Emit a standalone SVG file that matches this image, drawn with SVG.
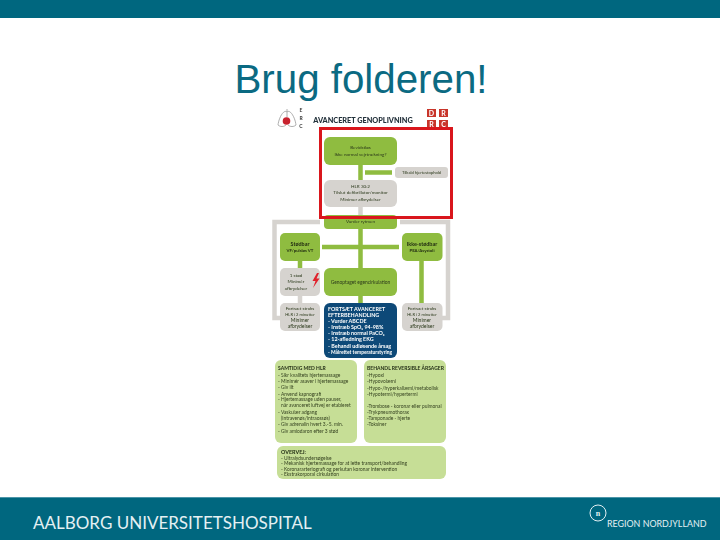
<svg xmlns="http://www.w3.org/2000/svg" width="720" height="540" viewBox="0 0 720 540">
<defs>
<filter id="soft" x="-5%" y="-5%" width="110%" height="110%"><feGaussianBlur stdDeviation="0.4"/></filter>
</defs>
<style>
text{font-family:"Lato","Liberation Sans",sans-serif}
.g{fill:#8fbc3f}.k{fill:#d6d3cf}.l{fill:#c6de96}
.t{fill:#2c3a1c;font-size:4.600px;text-anchor:middle}
.b{fill:#1f2a12;font-size:5.400px;font-weight:700;text-anchor:middle}
.s{fill:#33401f;font-size:4.900px}
.h{fill:#1f2a12;font-size:5px;font-weight:700}
.w{fill:#fff;font-size:5.400px;font-weight:700}
.c{stroke:#8fbc3f;stroke-width:4.500;fill:none}
.f{stroke:#d6d3cf;stroke-width:4.500;fill:none}
</style>
<rect width="720" height="540" fill="#fff"/>
<rect id="top-band" width="720" height="18" fill="#00677f"/>
<rect id="bottom-band" y="497" width="720" height="43" fill="#00677f"/>
<rect y="497" width="720" height="1" fill="#4d95a8"/>
<text id="title" x="361" y="93" text-anchor="middle" style="font-family:'Liberation Sans',Arial,sans-serif;font-size:40.300px" fill="#0b6a82">Brug folderen!</text>
<g id="flyer" filter="url(#soft)">
<g id="erc-logo">
<path d="M287 109v8M287 112c-3-3-8 5-9 13 2 2 6 2 8 0M287 112c3-3 8 5 9 13-2 2-6 2-8 0" fill="#fff" stroke="#9a9a9a" stroke-width="0.8"/>
<circle cx="286.500" cy="121" r="3.800" fill="#c8202f"/>
<text x="301" y="112" font-size="5" font-weight="700" fill="#333" text-anchor="middle">E</text>
<text x="301" y="120" font-size="5" font-weight="700" fill="#333" text-anchor="middle">R</text>
<text x="301" y="128" font-size="5" font-weight="700" fill="#333" text-anchor="middle">C</text>
</g>
<text id="heading" x="363" y="122.500" text-anchor="middle" font-size="7.300" font-weight="900" fill="#22303a">AVANCERET GENOPLIVNING</text>
<g id="drc-logo" font-size="7" font-weight="700" fill="#fff" text-anchor="middle">
<rect x="427" y="109" width="9" height="8" fill="#c8342c"/><rect x="439" y="109" width="9" height="8" fill="#c8342c"/>
<rect x="427" y="120" width="9" height="8" fill="#c8342c"/><rect x="439" y="120" width="9" height="8" fill="#c8342c"/>
<text x="431.500" y="115.500">D</text><text x="443.500" y="115.500">R</text>
<text x="431.500" y="126.500">R</text><text x="443.500" y="126.500">C</text>
</g>
<g id="connectors">
<path class="f" d="M320 222H274.500V318H281M400 222H448V318H441"/>
<path class="c" d="M360.500 165V180M392 172.500H365M360.500 228V268M322 247H399M300 261V268M421.500 261V303M360.500 296V303"/>
<path d="M360.500 207V215M300 296V303" stroke="#d6d3cf" stroke-width="4.500"/>
</g>
<g id="n-unresponsive"><rect class="g" x="324" y="137" width="73" height="28" rx="6"/>
<text class="t" x="360.500" y="149">Bevidstløs</text><text class="t" x="360.500" y="155.500">Ikke normal vejrtrækning?</text></g>
<g id="n-call"><rect class="k" x="395" y="167" width="53" height="11" rx="3"/>
<text class="t" x="421.500" y="174" style="font-size:4.100px">Tilkald hjertestophold</text></g>
<g id="n-cpr"><rect class="k" x="324" y="180" width="73" height="27" rx="6"/>
<text class="t" x="360.500" y="187.500">HLR 30:2</text><text class="t" x="360.500" y="194">Tilslut defibrillator/monitor</text><text class="t" x="360.500" y="200.500">Minimer afbrydelser</text></g>
<g id="n-rhythm"><rect class="g" x="324" y="215" width="73" height="14" rx="4"/>
<text class="t" x="360.500" y="223">Vurder rytmen</text></g>
<g id="n-shock"><rect class="g" x="280" y="233" width="40" height="28" rx="5"/>
<text class="b" x="300" y="245.500">Stødbar</text><text class="b" x="300" y="251.500" style="font-size:4.300px">VF/pulsløs VT</text></g>
<g id="n-noshock"><rect class="g" x="402" y="233" width="40.500" height="28" rx="5"/>
<text class="b" x="422" y="245.500">Ikke-stødbar</text><text class="b" x="422" y="251.500" style="font-size:4.300px">PEA/Asystoli</text></g>
<g id="n-1shock"><rect class="k" x="280" y="268" width="40" height="28" rx="5"/>
<text class="t" x="296" y="276.500">1 stød</text><text class="t" x="296" y="283">Minimér</text><text class="t" x="296" y="289.500">afbrydelser</text>
<path d="M317 273l-4.500 8h3l-2.500 7 6.500-9.500h-3l2.500-5.500z" fill="#e0202c"/></g>
<g id="n-rosc"><rect class="g" x="324" y="268" width="73" height="28" rx="6"/>
<text class="t" x="360.500" y="283.500" style="font-size:4.900px">Genoptaget egencirkulation</text></g>
<g id="n-cont-left"><rect class="k" x="280" y="303" width="40" height="28" rx="5"/>
<text class="t" x="300" y="309.500">Fortsæt straks</text><text class="t" x="300" y="315.500" style="font-size:4.100px">HLR i 2 minutter</text><text class="t" x="300" y="321.500" style="font-size:5px">Minimer</text><text class="t" x="300" y="327.500" style="font-size:5px">afbrydelser</text></g>
<g id="n-cont-right"><rect class="k" x="402" y="303" width="40.500" height="28" rx="5"/>
<text class="t" x="422" y="309.500">Fortsæt straks</text><text class="t" x="422" y="315.500" style="font-size:4.100px">HLR i 2 minutter</text><text class="t" x="422" y="321.500" style="font-size:5px">Minimer</text><text class="t" x="422" y="327.500" style="font-size:5px">afbrydelser</text></g>
<g id="n-post"><rect x="324" y="303" width="73" height="55" rx="6" fill="#0e4a78"/>
<text class="w" x="328" y="310.500">FORTSÆT AVANCERET</text><text class="w" x="328" y="316.500">EFTERBEHANDLING</text>
<text class="w" x="328" y="322.500">- Vurder ABCDE</text><text class="w" x="328" y="329">- Instræb SpO₂ 94-98%</text><text class="w" x="328" y="335">- Instræb normal PaCO₂</text><text class="w" x="328" y="341">- 12-afledning EKG</text><text class="w" x="328" y="347.500">- Behandl udløsende årsag</text><text class="w" x="328" y="353.500" style="font-size:4.900px">- Målrettet temperaturstyring</text></g>
<g id="n-during"><rect class="l" x="275" y="360" width="82" height="83" rx="6"/>
<text class="h" x="278" y="370">SAMTIDIG MED HLR</text>
<text class="s" x="278" y="377">- Sikr kvalitets hjertemassage</text>
<text class="s" x="278" y="383">- Minimér asaver i hjertemassage</text>
<text class="s" x="278" y="389">- Giv ilt</text>
<text class="s" x="278" y="395.500">- Anvend kapnografi</text>
<text class="s" x="278" y="401">- Hjertemassage uden pauser,</text>
<text class="s" x="281" y="407">når avanceret luftvej er etableret</text>
<text class="s" x="278" y="413.500">- Vaskulær adgang</text>
<text class="s" x="281" y="419.500">(intravenøs/intraossøs)</text>
<text class="s" x="278" y="426">- Giv adrenalin hvert 3.-5. min.</text>
<text class="s" x="278" y="432.500">- Giv amiodaron efter 3 stød</text></g>
<g id="n-causes"><rect class="l" x="364" y="360" width="82" height="83" rx="6"/>
<text class="h" x="367" y="370">BEHANDL REVERSIBLE ÅRSAGER</text>
<text class="s" x="367" y="377">-Hypoxi</text><text class="s" x="367" y="383">-Hypovolæmi</text>
<text class="s" x="367" y="389.500">-Hypo-/hyperkaliæmi/metabolisk</text><text class="s" x="367" y="395.500">-Hypotermi/hypertermi</text>
<text class="s" x="367" y="408">-Trombose - koronar eller pulmonal</text><text class="s" x="367" y="414">-Trykpneumothorax</text><text class="s" x="367" y="420">-Tamponade - hjerte</text><text class="s" x="367" y="426">-Toksiner</text></g>
<g id="n-consider"><rect class="l" x="277" y="446" width="169" height="33" rx="6"/>
<text class="h" x="281" y="454" style="font-size:5.400px">OVERVEJ:</text>
<text class="s" x="281" y="459.500">- Ultralydsundersøgelse</text>
<text class="s" x="281" y="465">- Mekanisk hjertemassage for at lette transport/behandling</text>
<text class="s" x="281" y="470.500">- Koronararteriografi og perkutan koronar intervention</text>
<text class="s" x="281" y="476">- Ekstrakorporal cirkulation</text></g>
</g>
<rect id="highlight" x="320.500" y="128.500" width="131" height="89" fill="none" stroke="#d9161c" stroke-width="3"/>
<text id="aauh" x="33" y="529" font-size="17" fill="#e4f0f3" style="font-family:Lato,'Liberation Sans',sans-serif">AALBORG UNIVERSITETSHOSPITAL</text>
<g id="rn-logo"><circle cx="598" cy="513" r="8" fill="none" stroke="#e4f0f3" stroke-width="1"/>
<text x="598" y="516" font-size="8" font-weight="700" fill="#e4f0f3" text-anchor="middle" style="font-family:'Liberation Serif',serif">n</text>
<text x="607" y="527" font-size="8.900" fill="#e4f0f3">REGION NORDJYLLAND</text></g>
</svg>
